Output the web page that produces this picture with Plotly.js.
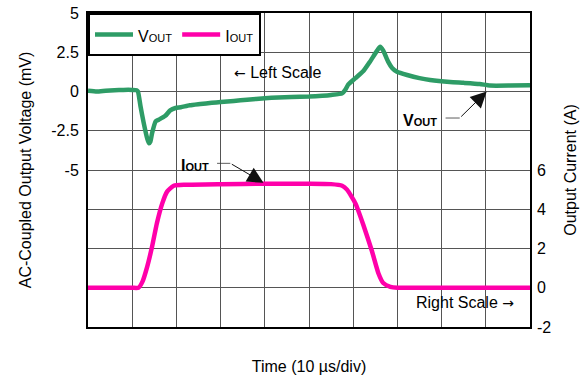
<!DOCTYPE html>
<html>
<head>
<meta charset="utf-8">
<script src="https://cdn.plot.ly/plotly-3.0.1.min.js"></script>
<style>html,body{margin:0;padding:0;background:#fff;}#chart{width:585px;height:376px;}</style>
</head>
<body>
<div id="chart"></div>
<script>
// Time in microseconds (10 µs per division)
const vTime = [0,2,4,6,8,10,11,11.3,11.9,12.6,13.4,13.8,14.1,14.5,15.3,16.0,17.5,18.6,19.8,21,23,25.4,28,30,33,36,40,43,46,50,53,55,57.5,58.2,58.9,60,60.5,62.3,63.8,65.4,66.1,66.8,67.9,68.8,69.9,72.2,75,77.4,81.9,85,88.6,90.9,95.5,100];
const vOut  = [0.05,0.0,0.05,0.08,0.1,0.1,0.08,0.0,-0.97,-2.0,-3.0,-3.3,-3.2,-2.65,-1.9,-1.8,-1.55,-1.2,-1.05,-1.0,-0.88,-0.8,-0.72,-0.67,-0.6,-0.52,-0.43,-0.38,-0.35,-0.32,-0.27,-0.22,-0.12,0.1,0.45,0.73,0.85,1.3,1.9,2.6,2.85,2.6,1.9,1.5,1.26,1.05,0.85,0.73,0.6,0.55,0.48,0.38,0.38,0.4];
const iTime = [0,5,10,11.4,12.3,13.4,14.5,15.6,16.8,17.9,19.4,22,30,40,50,55,57.5,58.6,60.5,62.3,64.2,65.7,66.8,68.4,70,80,90,100];
const iOut  = [0,0,0,0,0.3,1.08,2.1,3.3,4.3,4.9,5.2,5.25,5.28,5.3,5.3,5.28,5.2,5.0,4.3,3.2,1.9,0.74,0.24,0.05,0,0,0,0];

const leftTicks = [-15,-12.5,-10,-7.5,-5,-2.5,0,2.5,5];
const leftTickText = ['','','','','-5','-2.5','0','2.5','5'];
const rightTicks = [-2,0,2,4,6];
const rightTickText = ['-2','0','2','4','6'];

const FONT = 'Arial, "Liberation Sans", sans-serif';
const GREEN = '#2e9c66';
const PINK = '#ff00aa';
const GRID = '#555555';

const traces = [
  {x: vTime, y: vOut, type: 'scatter', mode: 'lines',
   name: '<span style="font-size:16px">V</span><span style="font-size:11px">OUT</span>',
   line: {color: GREEN, width: 4.5, shape: 'spline', smoothing: 0.5}, yaxis: 'y'},
  {x: iTime, y: iOut, type: 'scatter', mode: 'lines',
   name: '<span style="font-size:16px">I</span><span style="font-size:11px">OUT</span>',
   line: {color: PINK, width: 4.5, shape: 'spline', smoothing: 0.5}, yaxis: 'y2'}
];

const layout = {
  width: 585, height: 376,
  margin: {l: 88, r: 55, t: 13, b: 49},
  paper_bgcolor: '#fff', plot_bgcolor: '#fff',
  font: {family: FONT, size: 16, color: '#000'},
  showlegend: true,
  legend: {x: 0, y: 1, xanchor: 'left', yanchor: 'top', orientation: 'h', itemwidth: 38,
           bgcolor: '#fff', bordercolor: '#000', borderwidth: 2, font: {family: FONT, size: 20}},
  xaxis: {range: [0, 100], tick0: 0, dtick: 10, showticklabels: false, ticks: '',
          showgrid: true, gridcolor: GRID, gridwidth: 1, zeroline: false,
          showline: true, mirror: true, linecolor: '#000', linewidth: 2,
          title: {text: 'Time (10 µs/div)', font: {family: FONT, size: 16}, standoff: 33}},
  yaxis: {range: [-15, 5], tickmode: 'array', tickvals: leftTicks, ticktext: leftTickText, ticks: '',
          ticklabelstandoff: 4,
          showgrid: true, gridcolor: GRID, gridwidth: 1, zeroline: false,
          showline: true, mirror: true, linecolor: '#000', linewidth: 2,
          title: {text: 'AC-Coupled Output Voltage (mV)', font: {family: FONT, size: 16}, standoff: 16}},
  yaxis2: {range: [-2, 14], overlaying: 'y', side: 'right', tickmode: 'array', tickvals: rightTicks,
           ticktext: rightTickText, ticks: '', ticklabelstandoff: 6,
           showgrid: false, zeroline: false, showline: false,
           title: {text: 'Output Current (A)', font: {family: FONT, size: 16}, standoff: 14}},
  shapes: [
    {type: 'line', xref: 'x', yref: 'y2', x0: 29.2, x1: 32.2, y0: 6.34, y1: 6.34, line: {color: '#333', width: 0.8}},
    {type: 'line', xref: 'x', yref: 'y', x0: 80.9, x1: 84.1, y0: -1.69, y1: -1.69, line: {color: '#333', width: 0.8}}
  ],
  annotations: [
    {x: 42.9, y: 1.24, xref: 'x', yref: 'y', text: '<span style="font-family:DejaVu Sans;font-size:14px">←</span> Left Scale', showarrow: false, font: {family: FONT, size: 16}},
    {x: 85.4, y: -0.73, xref: 'x', yref: 'y2', text: 'Right Scale <span style="font-family:DejaVu Sans;font-size:14px">→</span>', showarrow: false, font: {family: FONT, size: 16}},
    {x: 24.1, y: 6.22, xref: 'x', yref: 'y2', text: '<b>I<span style="font-size:11px">OUT</span></b>', showarrow: false, font: {family: FONT, size: 16}},
    {x: 75.1, y: -1.82, xref: 'x', yref: 'y', text: '<b>V<span style="font-size:11px">OUT</span></b>', showarrow: false, font: {family: FONT, size: 16}},
    {x: 39.7, y: 5.35, xref: 'x', yref: 'y2', ax: 32.2, ay: 6.34, axref: 'x', ayref: 'y2', text: '',
     showarrow: true, arrowhead: 2, arrowsize: 3.2, arrowwidth: 1, arrowcolor: '#111', standoff: 0},
    {x: 90.2, y: 0.0, xref: 'x', yref: 'y', ax: 84.1, ay: -1.69, axref: 'x', ayref: 'y', text: '',
     showarrow: true, arrowhead: 2, arrowsize: 3.2, arrowwidth: 1, arrowcolor: '#111', standoff: 0}
  ]
};

Plotly.newPlot('chart', traces, layout, {displayModeBar: false, staticPlot: true});
</script>
</body>
</html>
